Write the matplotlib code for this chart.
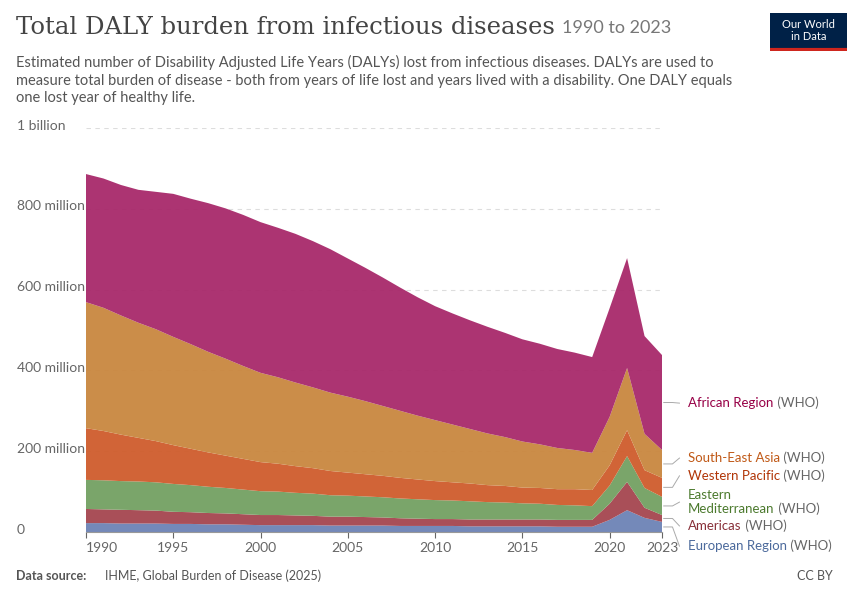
import matplotlib
matplotlib.use("Agg")
import matplotlib.pyplot as plt
import numpy as np

years = list(range(1990, 2024))
europe = [22,22,21,21,21,20,20,19,19,18, 17,17,17,17,16,16,16,16,15,15, 15,15,14,14,14,14,14,13,13,13, 30,54,35,25]
americas = [35,34,34,33,32,30,29,28,27,26, 25,25,24,23,22,22,21,20,19,18, 17,17,17,17,17,17,17,17,17,17, 40,70,25,17]
emr = [72,72,71,71,70,69,67,65,63,61, 59,58,56,55,53,52,51,50,49,48, 47,46,45,43,42,40,39,37,36,34, 45,64,49,45]
wpr = [128,122,115,108,102,96,90,85,80,76, 72,69,66,63,60,57,55,53,51,49, 47,45,44,42,41,39,39,39,40,40, 50,64,44,47]
sear = [312,305,295,285,277,268,259,249,240,230, 221,214,207,200,194,188,181,173,166,158, 151,143,135,128,121,114,108,102,97,92, 120,154,90,69]
afr = [317,320,323,329,340,354,360,368,372,374, 373,370,368,362,355,342,330,318,305,293, 282,275,269,264,258,253,249,245,241,237, 269,272,242,235]

series = [europe, americas, emr, wpr, sear, afr]
fill_colors = ["#6d83b5", "#a5454f", "#73a062", "#cf5c2c", "#c9873f", "#a8296a"]
label_colors = ["#4c6a9c", "#883039", "#4c7a2e", "#b13507", "#c05917", "#970046"]
names = ["European Region", "Americas", "Eastern|Mediterranean", "Western Pacific", "South-East Asia", "African Region"]
ytick_vals = [0, 200, 400, 600, 800, 1000]
ytick_labels = ["0", "200 million", "400 million", "600 million", "800 million", "1 billion"]

plt.rcParams['font.family'] = ['Lato', 'DejaVu Sans']
fig = plt.figure(figsize=(8.5, 6), dpi=100)
ax = fig.add_axes([86/850, 68/600, 576/850, 404/600])
ax.stackplot(years, *series, colors=fill_colors, alpha=0.95, linewidth=0, zorder=2)
ax.set_xlim(1990, 2023)
ax.set_ylim(0, 1000)
ax.set_yticks(ytick_vals)
ax.set_yticklabels([])
ax.tick_params(axis='y', length=0)
ax.set_xticks([1990, 1995, 2000, 2005, 2010, 2015, 2020, 2023])
ax.set_xticklabels(["1990", "1995", "2000", "2005", "2010", "2015", "2020", "2023"])
ax.tick_params(axis='x', length=4, labelsize=10, colors="#666666")
ax.get_xticklabels()[0].set_horizontalalignment('left')
ax.grid(axis='y', linestyle=(0, (4, 4)), color="#dddddd", zorder=0)
ax.set_axisbelow(True)
for s in ["top", "right", "left"]:
    ax.spines[s].set_visible(False)
ax.spines["bottom"].set_color("#999999")
ax.spines["bottom"].set_zorder(3)

for v, l in zip(ytick_vals, ytick_labels):
    y = fig.transFigure.inverted().transform(ax.transData.transform((1990, v)))[1]
    fig.text(17/850, y + 0.004, l, fontsize=10, color="#666666", va="center")

fig.canvas.draw()
r = fig.canvas.get_renderer()
inv = ax.transData.inverted()
tops = np.cumsum([s[-1] for s in series])
ylab = [-35, 15, 74, 139, 183, 319]
suffix = " (WHO)"
for i in range(6):
    mid = tops[i] - series[i][-1] / 2
    yl = ylab[i]
    ax.plot([2023.1, 2023.6, 2024.0], [mid, mid, yl], color="#aaaaaa", lw=0.7, clip_on=False)
    if "|" in names[i]:
        a, b = names[i].split("|")
        ax.text(2024.5, yl + 2, a, color=label_colors[i], fontsize=9.5, va="bottom", clip_on=False)
        t = ax.text(2024.5, yl - 2, b, color=label_colors[i], fontsize=9.5, va="top", clip_on=False)
        bb = t.get_window_extent(r).transformed(inv)
        ax.text(bb.x1, yl - 2, suffix, color="#666666", fontsize=9.5, va="top", clip_on=False)
    else:
        t = ax.text(2024.5, yl, names[i], color=label_colors[i], fontsize=9.5, va="center", clip_on=False)
        bb = t.get_window_extent(r).transformed(inv)
        ax.text(bb.x1, yl, suffix, color="#666666", fontsize=9.5, va="center", clip_on=False)

tt = fig.text(0.019, 0.955, "Total DALY burden from infectious diseases", fontsize=17.5,
              family=["DejaVu Serif"], color="#444444", va="center")
bbt = tt.get_window_extent(r)
fig.text(bbt.x1 / 850 + 0.008, 0.953, "1990 to 2023", fontsize=13, color="#777777", va="center")
fig.text(0.019, 0.908, "Estimated number of Disability Adjusted Life Years (DALYs) lost from infectious diseases. DALYs are used to\n"
         "measure total burden of disease - both from years of life lost and years lived with a disability. One DALY equals\n"
         "one lost year of healthy life.", fontsize=10.5, color="#555555", va="top", linespacing=1.3)
fig.text(0.019, 0.033, "Data source: ", fontsize=9, color="#555555", fontweight="bold")
fig.text(0.123, 0.033, "IHME, Global Burden of Disease (2025)", fontsize=9, color="#555555")
fig.text(0.98, 0.033, "CC BY", fontsize=9, color="#555555", ha="right")

logo = fig.add_axes([0.906, 0.915, 0.09, 0.063])
logo.set_facecolor("#002147")
logo.set_xticks([]); logo.set_yticks([])
for s in logo.spines.values():
    s.set_visible(False)
logo.text(0.5, 0.55, "Our World\nin Data", color="white", fontsize=8, ha="center", va="center",
          transform=logo.transAxes, linespacing=1.1)
logo.axhline(0.03, color="#ce261e", lw=3)

fig.savefig("out.png", dpi=100)
